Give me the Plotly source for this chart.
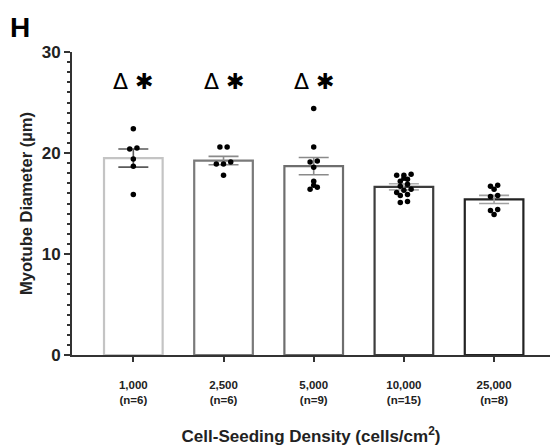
import plotly.graph_objects as go

# Cell-seeding densities and replicate counts
densities = ["1,000", "2,500", "5,000", "10,000", "25,000"]
n_counts = [6, 6, 9, 15, 8]

# Group means and SEM of myotube diameter (µm)
means = [19.5, 19.25, 18.7, 16.65, 15.4]
sems = [0.9, 0.42, 0.85, 0.3, 0.4]

# Individual replicate values per density
points = [
    [22.4, 20.5, 20.4, 19.4, 18.7, 15.9],
    [20.6, 20.6, 19.1, 18.9, 18.9, 17.8],
    [24.4, 20.6, 19.2, 19.1, 18.6, 17.2, 16.8, 16.6, 16.4],
    [17.9, 17.8, 17.8, 17.5, 17.4, 17.2, 16.9, 16.7, 16.4, 16.3, 16.1, 15.9, 15.8, 15.2, 15.1],
    [16.8, 16.7, 16.4, 15.8, 15.7, 14.4, 14.3, 13.9],
]

# Significance markers above groups
sig_labels = ["Δ ✱", "Δ ✱", "Δ ✱", "", ""]

edge_colors = ["#c4c4c4", "#7a7a7a", "#6e6e6e", "#3c3c3c", "#222222"]
err_colors = ["#5a5a5a", "#8a8a8a", "#8a8a8a", "#b0b0b0", "#a0a0a0"]

FONT = "Liberation Sans, Arial, sans-serif"


def spread(values, gap=0.3, step=0.08):
    """Horizontal offsets: values closer than `gap` share a row and fan out."""
    order = sorted(range(len(values)), key=lambda k: values[k])
    offsets = [0.0] * len(values)
    clusters, cur = [], [order[0]]
    for k in order[1:]:
        if values[k] - values[cur[0]] < gap:
            cur.append(k)
        else:
            clusters.append(cur)
            cur = [k]
    clusters.append(cur)
    for c in clusters:
        m = len(c)
        for j, k in enumerate(c):
            offsets[k] = (j - (m - 1) / 2) * step
    return offsets


fig = go.Figure()

for i in range(len(densities)):
    fig.add_trace(go.Bar(
        x=[i], y=[means[i]], width=0.65,
        marker=dict(color="white", line=dict(color=edge_colors[i], width=2.2)),
        error_y=dict(type="data", array=[sems[i]], visible=True,
                     color=err_colors[i], thickness=1.6, width=15),
        showlegend=False, hoverinfo="skip",
    ))

for i, vals in enumerate(points):
    offs = spread(vals)
    fig.add_trace(go.Scatter(
        x=[i + o for o in offs], y=vals, mode="markers",
        marker=dict(color="black", size=5.5),
        showlegend=False, hoverinfo="skip",
    ))

for i, lab in enumerate(sig_labels):
    if lab:
        fig.add_annotation(x=i, y=27.1, text=lab, showarrow=False,
                           font=dict(family="DejaVu Sans", size=22, color="black"),
                           xanchor="center", yanchor="middle")

tick_text = [f"<b>{d}<br>(n={n})</b>" for d, n in zip(densities, n_counts)]

fig.update_layout(
    width=550, height=448,
    margin=dict(l=72, r=0, t=52, b=93),
    plot_bgcolor="white", paper_bgcolor="white",
    barmode="overlay",
    font=dict(family=FONT, color="black"),
    xaxis=dict(
        range=[-0.68, 4.62], tickvals=list(range(len(densities))), ticktext=tick_text,
        showline=True, linecolor="#333333", linewidth=2,
        ticks="outside", ticklen=5, tickwidth=1.5, tickcolor="#333333",
        ticklabelstandoff=13,
        tickfont=dict(family=FONT, size=11.5, color="#222222"),
        showgrid=False, zeroline=False,
        title=dict(text="<b>Cell-Seeding Density (cells/cm<sup>2</sup>)</b>",
                   font=dict(family=FONT, size=17, color="#222222"), standoff=25),
    ),
    yaxis=dict(
        range=[0, 30], tickvals=[0, 10, 20, 30],
        showline=True, linecolor="#333333", linewidth=2,
        ticks="outside", ticklen=6, tickwidth=2, tickcolor="#333333",
        minor=dict(dtick=1, ticks="outside", ticklen=3.5, tickwidth=1.5, tickcolor="#333333"),
        tickfont=dict(family=FONT, size=17, color="#222222", weight="bold"),
        showgrid=False, zeroline=False,
        title=dict(text="<b>Myotube Diameter (µm)</b>",
                   font=dict(family=FONT, size=16.5, color="#222222"), standoff=5),
    ),
)

# Panel letter in the top-left corner, outside the plotting area
fig.add_annotation(x=(8 - 72) / 478, y=(355 - 27) / 303, xref="paper", yref="paper",
                   text="<b>H</b>", showarrow=False, xanchor="left", yanchor="middle",
                   font=dict(family=FONT, size=28, color="black"))

fig.write_html("out.html")
